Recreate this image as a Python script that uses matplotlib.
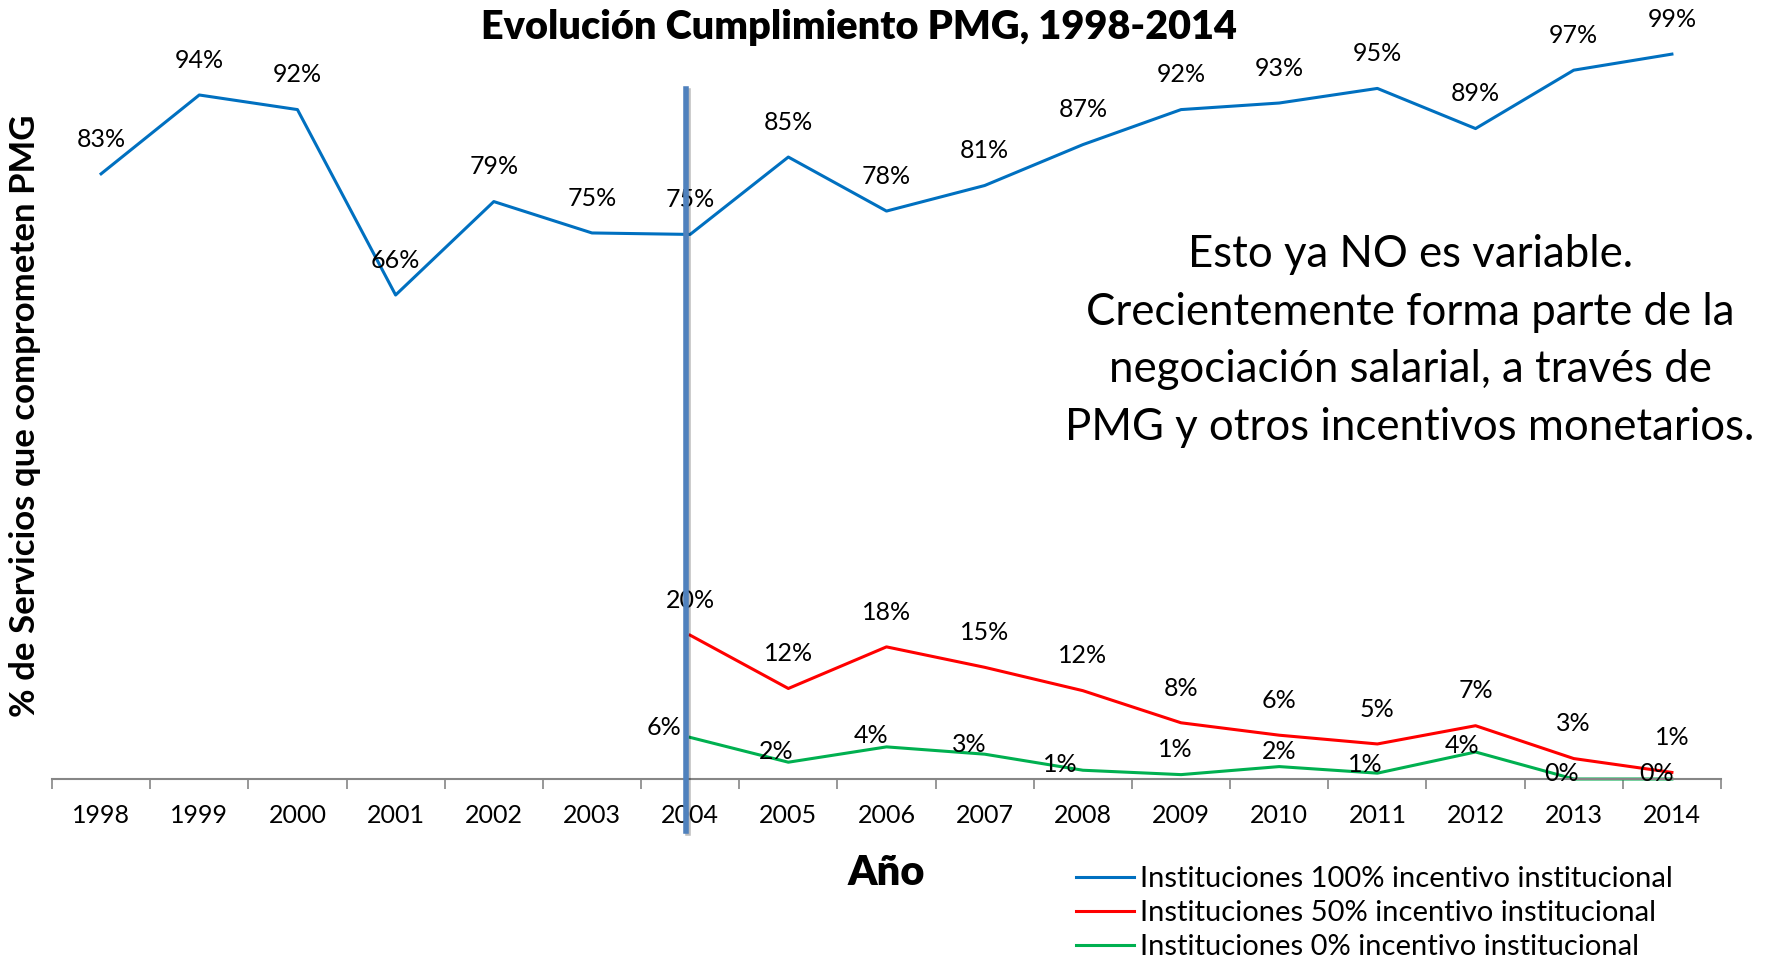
import matplotlib
matplotlib.use('Agg')
import matplotlib.pyplot as plt
from matplotlib import patheffects
import numpy as np

# Data (share of services, 0-1)
years = [str(y) for y in range(1998, 2015)]
pct_100 = [0.829, 0.937, 0.917, 0.663, 0.791, 0.748, 0.746, 0.852, 0.778, 0.813,
           0.869, 0.917, 0.926, 0.946, 0.891, 0.971, 0.993]
years_sub = years[6:]
pct_50 = [0.197, 0.124, 0.181, 0.153, 0.121, 0.077, 0.060, 0.048, 0.073, 0.028, 0.009]
pct_0 = [0.057, 0.023, 0.044, 0.034, 0.012, 0.006, 0.017, 0.008, 0.037, 0.0, 0.0]
series_names = ["Instituciones 100% incentivo institucional",
                "Instituciones 50% incentivo institucional",
                "Instituciones 0% incentivo institucional"]

title = "Evolución Cumplimiento PMG, 1998-2014"
note = ("Esto ya NO es variable.\n"
        "Crecientemente forma parte de la\n"
        "negociación salarial, a través de\n"
        "PMG y otros incentivos monetarios.")

plt.rcParams['font.family'] = ['Lato', 'DejaVu Sans']

BLUE = '#0070C0'
RED = '#FF0000'
GREEN = '#00B050'

fig = plt.figure(figsize=(17.73, 9.6), dpi=100, facecolor='w')
ax = fig.add_axes([52 / 1773, 1 - 779 / 960, (1721 - 52) / 1773, (779 - 49) / 960])

x_all = np.arange(len(years))
x_sub = np.arange(len(years) - len(years_sub), len(years))

ax.plot(x_all, pct_100, color=BLUE, lw=2.2, label=series_names[0], clip_on=False)
ax.plot(x_sub, pct_50, color=RED, lw=2.2, label=series_names[1], clip_on=False)
ax.plot(x_sub, pct_0, color=GREEN, lw=2.2, label=series_names[2], clip_on=False)

ax.set_xlim(-0.5, len(years) - 0.5)
ax.set_ylim(0, 1.0)

# data labels
lbl_size = 18
for x, v in zip(x_all, pct_100):
    ax.annotate('{:.0f}%'.format(v * 100), (x, v), xytext=(0, 25), textcoords='offset points',
                ha='center', va='center', fontsize=lbl_size, annotation_clip=False)
for x, v in zip(x_sub, pct_50):
    ax.annotate('{:.0f}%'.format(v * 100), (x, v), xytext=(0, 25), textcoords='offset points',
                ha='center', va='center', fontsize=lbl_size, annotation_clip=False)
# green labels were nudged by hand in the original
green_off = [(-19, 7), (-9, 8), (-11, 8), (-11, 7), (-16, 4), (-4, 18),
             (0, 11), (-9, 6), (-10, 5), (-9, 4), (-11, 4)]
for x, v, off in zip(x_sub, pct_0, green_off):
    ax.annotate('{:.0f}%'.format(v * 100), (x, v), xytext=off, textcoords='offset points',
                ha='center', va='center', fontsize=lbl_size, annotation_clip=False)

# axes styling
for s in ['top', 'right', 'left']:
    ax.spines[s].set_visible(False)
ax.spines['bottom'].set_color('#868686')
ax.spines['bottom'].set_linewidth(1.5)
ax.set_yticks([])
ax.set_xticks(x_all)
ax.set_xticklabels(years, fontsize=18)
ax.set_xticks(np.arange(-0.5, len(years)), minor=True)
ax.tick_params(axis='x', which='major', length=0, pad=18)
ax.tick_params(axis='x', which='minor', length=7, width=1.2, color='#868686')

# vertical divider at 2004
ax.axvline(5.954, ymin=-0.071, ymax=0.945, color='#4F81BD', lw=4, clip_on=False, zorder=5,
           path_effects=[patheffects.SimpleLineShadow(offset=(1.5, -1.5), alpha=0.25),
                         patheffects.Normal()])

fig.text(859 / 1773, 1 - 27 / 960, title, ha='center', va='center',
         fontsize=28.5, fontweight='heavy')
fig.text(25 / 1773, 1 - 416 / 960, "% de Servicios que comprometen PMG", rotation=90,
         ha='center', va='center', fontsize=25, fontweight='bold')
fig.text(886 / 1773, 1 - 873 / 960, "Año", ha='center', va='center',
         fontsize=30, fontweight='heavy')
fig.text(1410 / 1773, 1 - 341 / 960, note, ha='center', va='center', fontsize=31.5,
         linespacing=1.5)

ax.legend(loc='upper left', bbox_to_anchor=(1076 / 1773, 1 - 866 / 960),
          bbox_transform=fig.transFigure, frameon=False, fontsize=21,
          borderpad=0, borderaxespad=0, handlelength=2.0, handletextpad=0.2,
          labelspacing=0.28)

fig.savefig('out.png', dpi=100)
